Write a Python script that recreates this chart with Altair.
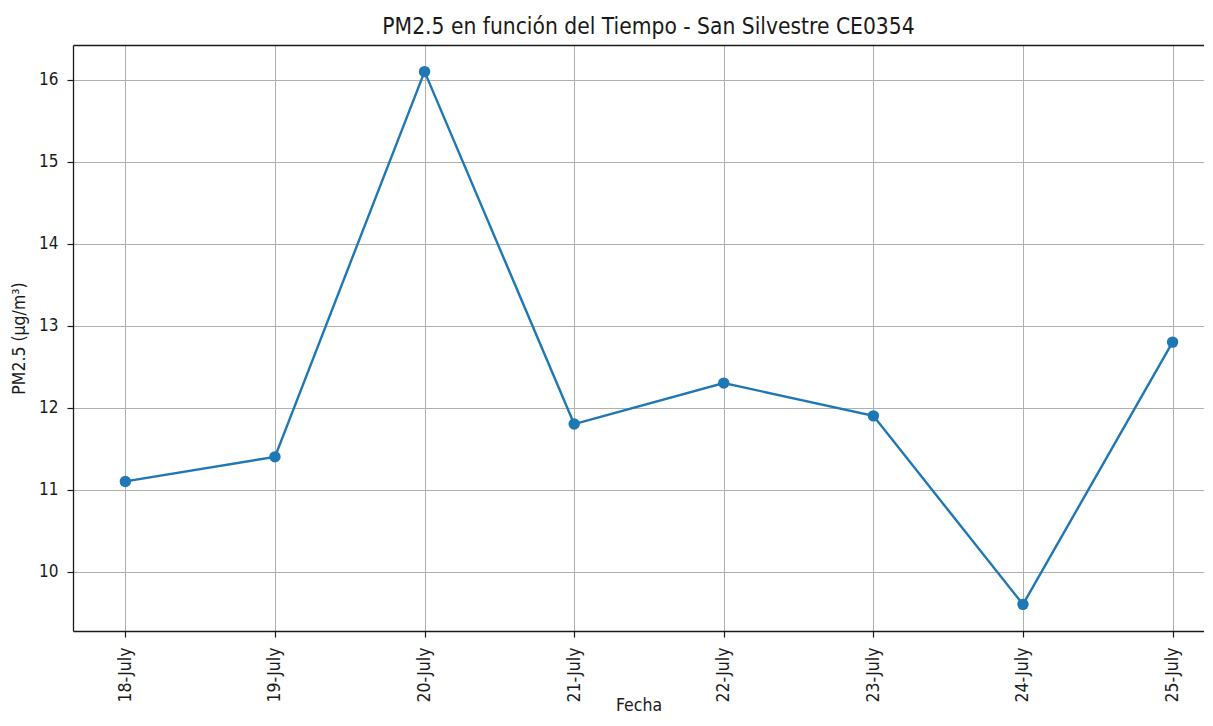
import altair as alt
import pandas as pd

fechas = ["18-July", "19-July", "20-July", "21-July", "22-July", "23-July", "24-July", "25-July"]
pm25 = [11.1, 11.4, 16.1, 11.8, 12.3, 11.9, 9.6, 12.8]
y_ticks = [10, 11, 12, 13, 14, 15, 16]

df = pd.DataFrame({"idx": list(range(len(fechas))), "fecha": fechas, "pm25": pm25})

label_array = "[" + ",".join("'" + f + "'" for f in fechas) + "]"

font = "DejaVu Sans Condensed"
txt = "#1a1a1a"
xscale = alt.Scale(domain=[-0.35, 7.21], nice=False, zero=False)
yscale = alt.Scale(domain=[9.275, 16.425], nice=False, zero=False)

bottom_axis = alt.Axis(
    values=list(range(len(fechas))),
    labelExpr=label_array + "[datum.value]",
    labelAngle=270, labelAlign="right", labelBaseline="middle",
    labelPadding=10, labelFontSize=17.5, labelColor=txt, labelFont=font,
    title="Fecha", titleFontSize=17.5, titleFont=font, titleFontWeight="normal",
    titleColor=txt, titleBaseline="alphabetic", titleY=79,
    grid=True, gridColor="#b0b0b0", gridWidth=1,
    domainColor=txt, domainWidth=1.3, tickColor=txt, tickSize=6, tickWidth=1.2,
)
top_axis = alt.Axis(orient="top", labels=False, ticks=False, grid=False, title=None,
                    domainColor=txt, domainWidth=1.3)
y_axis = alt.Axis(
    values=y_ticks, labelFontSize=17, labelColor=txt, labelFont=font, labelPadding=9,
    title="PM2.5 (µg/m³)", titleFontSize=17.5, titleFont=font, titleFontWeight="normal",
    titleColor=txt, titlePadding=10,
    grid=True, gridColor="#b0b0b0", gridWidth=1,
    domainColor=txt, domainWidth=1.3, tickColor=txt, tickSize=6, tickWidth=1.2,
)

base = alt.Chart(df)
line = base.mark_line(color="#1f77b4", strokeWidth=2.4).encode(
    x=alt.X("idx:Q", scale=xscale, axis=top_axis),
    y=alt.Y("pm25:Q", scale=yscale, axis=y_axis),
)
points = base.mark_circle(color="#1f77b4", size=130, opacity=1).encode(
    x=alt.X("idx:Q", scale=xscale, axis=bottom_axis),
    y=alt.Y("pm25:Q", scale=yscale, axis=y_axis),
)

chart = alt.layer(line, points).resolve_axis(x="independent").properties(
    width=1131, height=586,
    title=alt.TitleParams("PM2.5 en función del Tiempo - San Silvestre CE0354",
                          fontSize=22.6, font=font, fontWeight="normal", color=txt,
                          offset=6, dx=10),
    autosize=alt.AutoSizeParams(type="none"),
    padding={"left": 65, "top": 37, "right": 0, "bottom": 87},
).configure_view(stroke=None)

chart.save("out.html", embed_options={"renderer": "svg", "actions": False})
